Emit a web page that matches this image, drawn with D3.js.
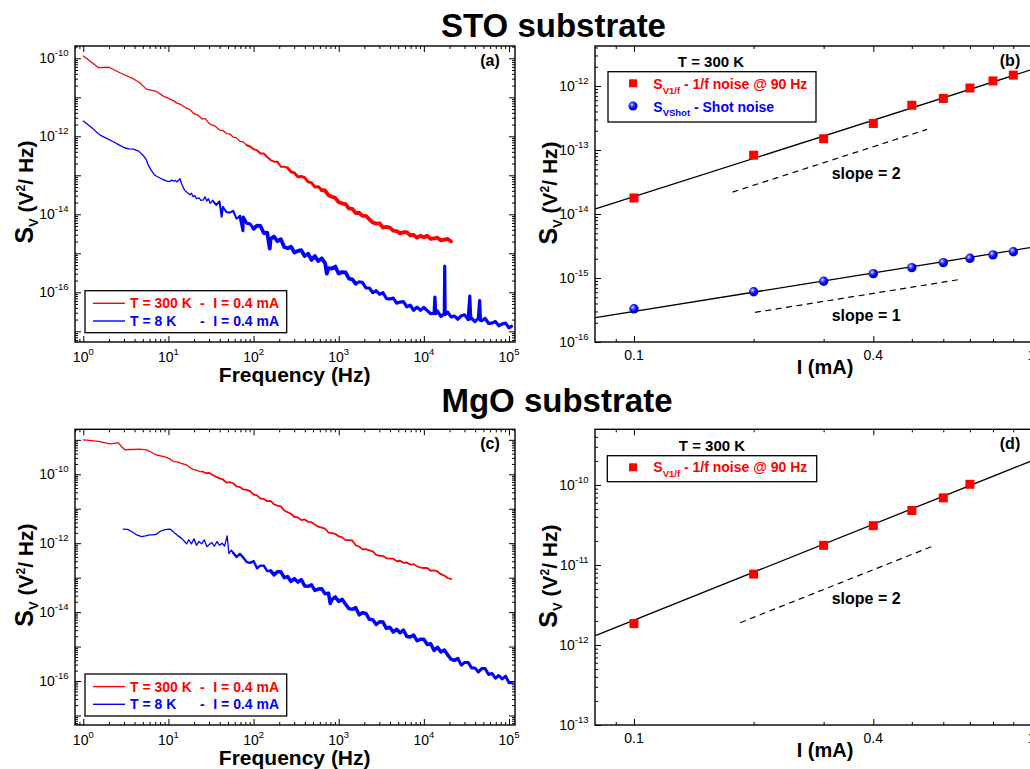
<!DOCTYPE html>
<html><head><meta charset="utf-8">
<script src="https://cdn.jsdelivr.net/npm/d3@7"></script>
<style>
body{margin:0;background:#fff}
svg text{font-family:"Liberation Sans",Arial,Helvetica,sans-serif}
</style>
</head><body>
<svg id="chart" width="1030" height="769"></svg>
<script>
// ---------------- DATA ----------------
// Spectra: [log10 f (Hz), log10 Sv (V^2/Hz)]
const specA_300K = [[0,-9.94],[0.18,-10.24],[0.30,-10.23],[0.43,-10.37],[0.59,-10.53],[0.66,-10.62],[0.74,-10.79],[0.86,-10.85],[0.94,-10.97],[1.0,-11.03],[1.05,-11.08],[1.1,-11.15],[1.15,-11.19],[1.21,-11.28],[1.25,-11.31],[1.3,-11.42],[1.34,-11.45],[1.4,-11.56],[1.43,-11.54],[1.47,-11.65],[1.5,-11.70],[1.55,-11.74],[1.6,-11.84],[1.64,-11.85],[1.68,-11.93],[1.72,-11.94],[1.76,-12.02],[1.8,-12.04],[1.84,-12.13],[1.88,-12.15],[1.92,-12.23],[1.96,-12.26],[2.0,-12.33],
[2.04,-12.36],[2.08,-12.44],[2.12,-12.44],[2.16,-12.53],[2.20,-12.61],[2.24,-12.65],[2.28,-12.65],[2.32,-12.78],[2.36,-12.78],[2.40,-12.81],
[2.44,-12.91],[2.48,-12.94],[2.52,-13.04],[2.56,-13.03],[2.60,-13.06],[2.64,-13.17],[2.68,-13.19],[2.72,-13.30],[2.76,-13.29],[2.80,-13.38],
[2.84,-13.39],[2.88,-13.51],[2.92,-13.55],[2.96,-13.58],[3.00,-13.69],[3.04,-13.72],[3.08,-13.74],[3.12,-13.85],[3.16,-13.86],[3.20,-13.97],
[3.24,-13.96],[3.28,-14.04],[3.32,-14.04],[3.36,-14.13],[3.40,-14.21],[3.44,-14.24],[3.48,-14.23],[3.52,-14.34],[3.56,-14.32],[3.60,-14.34],
[3.64,-14.42],[3.68,-14.43],[3.72,-14.49],[3.76,-14.46],[3.80,-14.46],[3.84,-14.54],[3.88,-14.53],[3.92,-14.60],[3.96,-14.55],[4.00,-14.59],
[4.04,-14.55],[4.08,-14.63],[4.12,-14.62],[4.16,-14.60],[4.20,-14.67],[4.24,-14.65],[4.28,-14.63],[4.32,-14.70]];

const specA_8K = [[0,-11.61],[0.1,-11.78],[0.196,-11.97],[0.28,-12.06],[0.352,-12.14],[0.42,-12.22],[0.489,-12.30],[0.54,-12.32],[0.587,-12.33],[0.65,-12.38],[0.704,-12.49],[0.74,-12.60],[0.763,-12.74],[0.80,-12.88],[0.841,-13.0],[0.90,-13.07],[0.939,-13.11],[0.98,-13.15],[1.017,-13.16],[1.04,-13.12],[1.06,-13.15],[1.08,-13.13],[1.10,-13.17],[1.135,-13.09],[1.16,-13.25],[1.19,-13.38],[1.22,-13.44],[1.252,-13.50],[1.27,-13.46],[1.29,-13.55],[1.31,-13.52],[1.33,-13.60],[1.36,-13.58],[1.38,-13.64],[1.41,-13.63],[1.43,-13.55],[1.45,-13.66],[1.47,-13.60],[1.49,-13.72],
[1.52,-13.65],[1.56,-13.76],[1.60,-13.67],[1.625,-14.06],[1.64,-13.81],[1.68,-13.94],[1.72,-13.96],[1.76,-13.91],[1.80,-14.11],[1.84,-14.05],[1.875,-14.42],[1.88,-14.07],[1.92,-14.23],[1.96,-14.25],
[2.00,-14.37],[2.04,-14.29],[2.08,-14.30],[2.12,-14.48],[2.16,-14.47],[2.19,-14.88],[2.20,-14.63],[2.24,-14.57],[2.28,-14.69],[2.32,-14.64],[2.36,-14.84],[2.40,-14.87],[2.44,-14.83],
[2.48,-14.98],[2.52,-14.94],[2.56,-14.92],[2.60,-15.07],[2.64,-15.01],[2.68,-15.17],[2.72,-15.07],[2.76,-15.20],[2.80,-15.13],[2.84,-15.25],[2.86,-15.52],[2.88,-15.38],[2.92,-15.39],
[2.96,-15.34],[3.00,-15.52],[3.04,-15.48],[3.08,-15.49],[3.12,-15.65],[3.16,-15.67],[3.20,-15.78],[3.24,-15.73],[3.28,-15.75],[3.32,-15.89],[3.36,-15.89],[3.40,-16.01],
[3.44,-15.96],[3.48,-16.05],[3.52,-16.01],[3.56,-16.16],[3.60,-16.17],[3.64,-16.15],[3.68,-16.28],[3.72,-16.25],[3.76,-16.24],[3.80,-16.37],[3.84,-16.33],[3.88,-16.46],
[3.92,-16.38],[3.96,-16.46],[4.00,-16.39],[4.04,-16.47],[4.08,-16.55],[4.12,-16.54],[4.13,-16.12],[4.14,-16.55],[4.16,-16.48],[4.20,-16.62],[4.24,-16.54],[4.245,-15.33],[4.25,-16.57],
[4.28,-16.51],[4.32,-16.63],[4.36,-16.61],[4.40,-16.69],[4.44,-16.60],[4.48,-16.58],[4.52,-16.70],[4.54,-16.10],[4.55,-16.68],[4.56,-16.66],[4.60,-16.75],[4.64,-16.67],[4.655,-16.21],[4.665,-16.72],
[4.68,-16.73],[4.72,-16.67],[4.76,-16.80],[4.80,-16.79],[4.84,-16.75],[4.88,-16.86],[4.92,-16.81],[4.96,-16.79],[5.00,-16.91],[5.03,-16.87]];

const specC_300K = [[0,-9.0],[0.1,-9.02],[0.196,-9.05],[0.26,-9.09],[0.313,-9.12],[0.36,-9.10],[0.41,-9.08],[0.45,-9.20],[0.489,-9.29],[0.54,-9.28],[0.587,-9.28],[0.66,-9.27],[0.743,-9.29],[0.80,-9.36],[0.861,-9.44],[0.92,-9.47],[0.978,-9.51],[1.02,-9.56],[1.056,-9.63],[1.1,-9.64],[1.15,-9.68],[1.213,-9.73],[1.25,-9.80],[1.29,-9.86],[1.33,-9.88],[1.369,-9.92],
[1.40,-9.92],[1.44,-9.97],[1.48,-9.96],[1.52,-10.02],[1.56,-10.07],[1.60,-10.12],[1.64,-10.15],[1.68,-10.24],[1.72,-10.23],[1.76,-10.26],[1.80,-10.35],[1.84,-10.37],[1.88,-10.44],[1.92,-10.45],[1.96,-10.49],[2.00,-10.59],
[2.04,-10.61],[2.08,-10.70],[2.12,-10.72],[2.16,-10.78],[2.20,-10.77],[2.24,-10.87],[2.28,-10.91],[2.32,-10.93],[2.36,-11.05],[2.40,-11.10],[2.44,-11.15],[2.48,-11.24],[2.52,-11.25],[2.56,-11.33],[2.60,-11.31],[2.64,-11.38],
[2.68,-11.39],[2.72,-11.46],[2.76,-11.52],[2.80,-11.55],[2.84,-11.58],[2.88,-11.69],[2.92,-11.71],[2.96,-11.73],[3.00,-11.80],[3.04,-11.83],[3.08,-11.91],[3.12,-11.91],[3.16,-11.92],[3.20,-12.06],[3.24,-12.10],[3.28,-12.18],
[3.32,-12.17],[3.36,-12.21],[3.40,-12.24],[3.44,-12.34],[3.48,-12.37],[3.52,-12.37],[3.56,-12.44],[3.60,-12.45],[3.64,-12.45],[3.68,-12.52],[3.72,-12.51],[3.76,-12.57],[3.80,-12.56],[3.84,-12.62],[3.88,-12.61],[3.92,-12.67],
[3.96,-12.71],[4.00,-12.72],[4.04,-12.72],[4.08,-12.80],[4.12,-12.79],[4.16,-12.82],[4.20,-12.90],[4.24,-12.94],[4.28,-13.01],[4.32,-13.04]];

const specC_8K = [[0.469,-11.59],[0.52,-11.60],[0.567,-11.66],[0.62,-11.75],[0.685,-11.81],[0.73,-11.79],[0.78,-11.76],[0.82,-11.76],[0.86,-11.74],[0.90,-11.66],[0.94,-11.62],[0.98,-11.60],[1.017,-11.59],[1.05,-11.65],[1.076,-11.71],[1.11,-11.78],[1.154,-11.86],[1.19,-11.95],[1.213,-12.02],
[1.24,-11.90],[1.27,-12.02],[1.30,-11.87],[1.33,-12.06],[1.36,-11.95],[1.39,-12.02],[1.42,-11.90],[1.45,-12.10],[1.48,-12.04],[1.51,-11.98],[1.54,-12.09],[1.57,-11.95],[1.60,-12.06],[1.63,-12.00],[1.66,-12.08],[1.69,-11.79],[1.71,-12.30],[1.74,-12.20],
[1.76,-12.28],[1.80,-12.40],[1.84,-12.31],[1.88,-12.42],[1.92,-12.55],[1.96,-12.57],[2.00,-12.52],[2.04,-12.73],[2.08,-12.65],[2.12,-12.65],[2.16,-12.81],[2.20,-12.80],[2.24,-12.92],[2.28,-12.83],[2.32,-12.83],[2.36,-13.00],
[2.40,-12.97],[2.44,-13.11],[2.48,-13.03],[2.52,-13.13],[2.56,-13.06],[2.60,-13.24],[2.64,-13.25],[2.68,-13.21],[2.72,-13.37],[2.76,-13.33],[2.80,-13.32],[2.84,-13.47],[2.88,-13.45],[2.90,-13.75],[2.92,-13.64],[2.96,-13.56],
[3.00,-13.69],[3.04,-13.63],[3.08,-13.77],[3.12,-13.90],[3.16,-13.92],[3.20,-13.87],[3.24,-14.08],[3.28,-14.02],[3.32,-14.04],[3.36,-14.21],[3.40,-14.22],[3.44,-14.36],[3.48,-14.28],[3.52,-14.29],[3.56,-14.47],[3.60,-14.44],
[3.64,-14.58],[3.68,-14.50],[3.72,-14.60],[3.76,-14.52],[3.80,-14.71],[3.84,-14.72],[3.88,-14.67],[3.92,-14.83],[3.96,-14.79],[4.00,-14.79],[4.04,-14.94],[4.08,-14.92],[4.12,-15.11],[4.16,-15.02],[4.20,-15.16],[4.24,-15.10],
[4.28,-15.24],[4.32,-15.37],[4.36,-15.40],[4.40,-15.35],[4.44,-15.54],[4.48,-15.46],[4.52,-15.46],[4.56,-15.62],[4.60,-15.62],[4.64,-15.74],[4.68,-15.64],[4.72,-15.64],[4.76,-15.81],[4.80,-15.78],[4.84,-15.92],[4.88,-15.84],
[4.92,-15.94],[4.96,-15.86],[5.00,-16.05],[5.03,-16.05]];

// Current dependence (I in mA, Sv in V^2/Hz)
const currentsB = [0.1,0.2,0.3,0.4,0.5,0.6,0.7,0.8,0.9];
const svB_oneOverF = [1.78e-14,8.3e-14,1.5e-13,2.6e-13,5.0e-13,6.4e-13,9.3e-13,1.2e-12,1.48e-12];
const svB_shot = [3.3e-16,6.1e-16,8.9e-16,1.17e-15,1.45e-15,1.74e-15,2.03e-15,2.3e-15,2.57e-15];
const currentsD = [0.1,0.2,0.3,0.4,0.5,0.6,0.7];
const svD_oneOverF = [1.85e-12,7.7e-12,1.76e-11,3.1e-11,4.8e-11,6.9e-11,1.02e-10];
// fitted power laws [I, Sv] end points and slope guides
const fitB_oneOverF = [[0.08,1.2e-14],[1.0,1.8e-12]];
const fitB_shot = [[0.08,2.4e-16],[1.0,3.0e-15]];
const fitD_oneOverF = [[0.08,1.31e-12],[1.0,2.0e-10]];
const guideB_slope2 = [[0.177,2.2e-14],[0.546,2.1e-13]];
const guideB_slope1 = [[0.2015,2.9e-16],[0.668,9.6e-16]];
const guideD_slope2 = [[0.185,1.9e-12],[0.566,1.73e-11]];

// Tick labels
const freqTickExps = [0,1,2,3,4,5];
const yTickExpsA = [-16,-14,-12,-10];
const yTickExpsB = [-16,-15,-14,-13,-12];
const yTickExpsC = [-16,-14,-12,-10];
const yTickExpsD = [-13,-12,-11,-10];
const currentTicks = [0.1,0.4,1];
const currentTickLabels = ["0.1","0.4","1"];
const currentMinorTicks = [0.09,0.2,0.3,0.5,0.6,0.7,0.8,0.9];

// ---------------- DRAWING ----------------
const svg = d3.select("#chart");
const RED = "#ff0000", BLUE = "#0000ff";

const defs = svg.append("defs");
const grad = defs.append("radialGradient").attr("id","sphere").attr("cx","38%").attr("cy","35%").attr("r","65%");
grad.append("stop").attr("offset","0%").attr("stop-color","#ffffff");
grad.append("stop").attr("offset","22%").attr("stop-color","#6a6aff");
grad.append("stop").attr("offset","60%").attr("stop-color","#0000ff");
grad.append("stop").attr("offset","100%").attr("stop-color","#0000a8");

function logTicks(domain){
  const lo=Math.min(...domain), hi=Math.max(...domain);
  const major=[], minor=[];
  for(let e=Math.floor(Math.log10(lo))-1;e<=Math.ceil(Math.log10(hi));e++){
    for(let k=1;k<10;k++){
      const v=+(k*Math.pow(10,e)).toPrecision(6);
      if(v>=lo*0.9999 && v<=hi*1.0001){ (k===1?major:minor).push(v); }
    }
  }
  return {major,minor};
}

function panel(p){
  const g = svg.append("g");
  const x = d3.scaleLog().domain(p.xDomain).range([p.x0,p.x1]);
  const y = d3.scaleLog().domain(p.yDomain).range([p.y1,p.y0]);
  const clipId = "clip"+p.id;
  defs.append("clipPath").attr("id",clipId).append("rect")
    .attr("x",p.x0).attr("y",p.y0).attr("width",p.x1-p.x0).attr("height",p.y1-p.y0);

  const yt = logTicks(p.yDomain);
  const xMajor = p.xMajor, xMinor = p.xMinor;
  const axes = [
    [d3.axisLeft(y), `translate(${p.x0},0)`, yt.major, -6],
    [d3.axisLeft(y), `translate(${p.x0},0)`, yt.minor, -3],
    [d3.axisBottom(x), `translate(0,${p.y1})`, xMajor, -6],
    [d3.axisBottom(x), `translate(0,${p.y1})`, xMinor, -3],
    [d3.axisTop(x), `translate(0,${p.y0})`, xMajor, -6],
    [d3.axisTop(x), `translate(0,${p.y0})`, xMinor, -3]
  ];
  if(p.rightTicks){
    axes.push([d3.axisRight(y), `translate(${p.x1},0)`, yt.major, -6]);
    axes.push([d3.axisRight(y), `translate(${p.x1},0)`, yt.minor, -3]);
  }
  axes.forEach(([ax,tr,vals,len])=>{
    g.append("g").attr("transform",tr)
      .call(ax.tickValues(vals).tickSize(len).tickFormat(""))
      .call(s=>s.select(".domain").remove())
      .call(s=>s.selectAll("line").attr("stroke","#000").attr("stroke-width",1));
  });

  g.append("rect").attr("x",p.x0).attr("y",p.y0).attr("width",p.x1-p.x0).attr("height",p.y1-p.y0)
    .attr("fill","none").attr("stroke","#000").attr("stroke-width",1.4);

  p.yLabels.forEach(e=>{
    const t = g.append("text").attr("x",p.x0-6.5).attr("y",y(Math.pow(10,e))+5)
      .attr("text-anchor","end").attr("font-size",14).attr("fill","#000");
    t.append("tspan").text("10");
    t.append("tspan").attr("font-size",9.5).attr("dy",-7).text(String(e));
  });
  return {g,x,y,clip:`url(#${clipId})`};
}

function yLabel(g,cx,cy){
  const t = g.append("text").attr("transform",`translate(${cx},${cy}) rotate(-90)`)
    .attr("text-anchor","middle").attr("font-weight","bold").attr("fill","#000");
  t.append("tspan").attr("font-size",25).text("S");
  t.append("tspan").attr("font-size",13).attr("dy",5).text("V");
  t.append("tspan").attr("font-size",21).attr("dy",-5).text(" (V");
  t.append("tspan").attr("font-size",12).attr("dy",-8).text("2");
  t.append("tspan").attr("font-size",21).attr("dy",8).text("/ Hz)");
}

function boldText(g,x,y,size,txt,color,anchor){
  return g.append("text").attr("x",x).attr("y",y).attr("font-size",size).attr("font-weight","bold")
    .attr("fill",color||"#000").attr("text-anchor",anchor||"start").text(txt);
}

const lineLog = (x,y)=>d3.line().x(d=>x(Math.pow(10,d[0]))).y(d=>y(Math.pow(10,d[1])));
const linePts = (x,y)=>d3.line().x(d=>x(d[0])).y(d=>y(d[1]));

// measured spectrum: the trace gets thicker where the recorded spectrum is dense & noisy
function trace(dg,x,y,data,color,widths){
  widths.forEach(([from,w],i)=>{
    const to = i+1<widths.length ? widths[i+1][0] : Infinity;
    const seg = data.filter(d=>d[0]>=from && d[0]<=to);
    dg.append("path").datum(seg).attr("d",lineLog(x,y)).attr("fill","none").attr("stroke",color)
      .attr("stroke-width",w).attr("stroke-linejoin","round").attr("stroke-linecap","round");
  });
}

function spectrumPanel(id,y0,y1,yDomain,yLabels,s300,s8,letter,legY,w300,w8){
  const xDomain=[Math.pow(10,-0.0975),Math.pow(10,5.0705)];
  const xt = logTicks(xDomain);
  const P = panel({id,x0:75,x1:515,y0,y1,xDomain,yDomain,yLabels,xMajor:xt.major,xMinor:xt.minor,rightTicks:true});
  const {g,x,y}=P;
  freqTickExps.forEach(e=>{
    const t=g.append("text").attr("x",x(Math.pow(10,e))).attr("y",y1+19.7).attr("text-anchor","middle")
      .attr("font-size",14).attr("fill","#000");
    t.append("tspan").text("10");
    t.append("tspan").attr("font-size",9.5).attr("dy",-7).text(String(e));
  });
  const dg=g.append("g").attr("clip-path",P.clip);
  trace(dg,x,y,s300,RED,w300);
  trace(dg,x,y,s8,BLUE,w8);
  boldText(g,294.7,y1+39.5,21,"Frequency (Hz)","#000","middle");
  yLabel(g,33.3,(y0+y1)/2-2);
  boldText(g,490,y0+19.5,16,letter,"#000","middle");
  const L=legY;
  g.append("rect").attr("x",85).attr("y",L).attr("width",201.7).attr("height",42).attr("fill","#fff").attr("stroke","#000").attr("stroke-width",1.3);
  g.append("line").attr("x1",93).attr("x2",125).attr("y1",L+12.6).attr("y2",L+12.6).attr("stroke",RED).attr("stroke-width",1.4);
  g.append("line").attr("x1",93).attr("x2",125).attr("y1",L+30.3).attr("y2",L+30.3).attr("stroke",BLUE).attr("stroke-width",1.4);
  boldText(g,130,L+17.6,14,"T = 300 K",RED); boldText(g,200,L+17.6,14,"-",RED); boldText(g,213.3,L+17.6,14,"I = 0.4 mA",RED);
  boldText(g,130,L+35.3,14,"T = 8 K",BLUE); boldText(g,200,L+35.3,14,"-",BLUE); boldText(g,213.3,L+35.3,14,"I = 0.4 mA",BLUE);
}

spectrumPanel("A",46,342,[Math.pow(10,-17.274),Math.pow(10,-9.685)],yTickExpsA,specA_300K,specA_8K,"(a)",290.7,
  [[0,1.3],[1.92,2.0],[2.4,2.9],[2.8,3.8]], [[0,1.3],[1.52,2.0],[1.84,3.0],[2.0,3.8],[3.2,3.2]]);
spectrumPanel("C",429.3,725,[Math.pow(10,-17.277),Math.pow(10,-8.694)],yTickExpsC,specC_300K,specC_8K,"(c)",674,
  [[0,1.3],[1.4,1.8]], [[0,1.3],[1.76,2.4],[2.2,3.5],[4.4,3.0]]);

function currentPanel(id,y0,y1,yDomain,yLabels){
  const P = panel({id,x0:595,x1:1031.5,y0,y1,xDomain:[0.0798,1.0],yDomain,yLabels,xMajor:currentTicks,xMinor:currentMinorTicks,rightTicks:false});
  const {g,x}=P;
  currentTicks.forEach((v,i)=>{
    g.append("text").attr("x",x(v)).attr("y",y1+18).attr("text-anchor","middle").attr("font-size",14).attr("fill","#000").text(currentTickLabels[i]);
  });
  boldText(g,825,y1+32,20,"I (mA)","#000","middle");
  yLabel(g,556.7,(y0+y1)/2-1);
  return P;
}
function squares(g,x,y,I,S,clip){
  g.append("g").attr("clip-path",clip).selectAll("rect").data(I.map((v,i)=>[v,S[i]])).join("rect")
    .attr("x",d=>x(d[0])-4.5).attr("y",d=>y(d[1])-4.5).attr("width",9).attr("height",9).attr("fill",RED);
}
function spheres(g,x,y,I,S,clip){
  g.append("g").attr("clip-path",clip).selectAll("circle").data(I.map((v,i)=>[v,S[i]])).join("circle")
    .attr("cx",d=>x(d[0])).attr("cy",d=>y(d[1])).attr("r",4.7).attr("fill","url(#sphere)");
}
function fitLine(P,pts,dashed){
  P.g.append("path").attr("clip-path",P.clip).datum(pts).attr("d",linePts(P.x,P.y)).attr("fill","none")
    .attr("stroke","#000").attr("stroke-width",dashed?1.2:1.3).attr("stroke-dasharray",dashed?"6,4.5":null);
}
function legendEntry(g,x,yb,sub,rest,color){
  const t=g.append("text").attr("x",x).attr("y",yb).attr("font-size",14).attr("font-weight","bold").attr("fill",color);
  t.append("tspan").text("S");
  t.append("tspan").attr("font-size",9.5).attr("dy",4.5).text(sub);
  t.append("tspan").attr("dy",-4.5).text(rest);
}

// (b)
const B = currentPanel("B",46,342,[1e-16,Math.pow(10,-11.375)],yTickExpsB);
fitLine(B,fitB_oneOverF); fitLine(B,fitB_shot);
fitLine(B,guideB_slope2,true); fitLine(B,guideB_slope1,true);
squares(B.g,B.x,B.y,currentsB,svB_oneOverF,B.clip);
spheres(B.g,B.x,B.y,currentsB,svB_shot,B.clip);
boldText(B.g,831.7,179.3,16,"slope = 2");
boldText(B.g,831.7,320.7,16,"slope = 1");
boldText(B.g,1010,65.5,16,"(b)","#000","middle");
boldText(B.g,711,67,15,"T = 300 K","#000","middle");
B.g.append("rect").attr("x",608).attr("y",71.7).attr("width",208).attr("height",50.3).attr("fill","#fff").attr("stroke","#000").attr("stroke-width",1.3);
B.g.append("rect").attr("x",629).attr("y",79.3).attr("width",8).attr("height",8).attr("fill",RED);
B.g.append("circle").attr("cx",633).attr("cy",106).attr("r",4.5).attr("fill","url(#sphere)");
legendEntry(B.g,653.3,89.3,"V1/f"," - 1/f noise @ 90 Hz",RED);
legendEntry(B.g,653.3,111.7,"VShot"," - Shot noise",BLUE);

// (d)
const D = currentPanel("D",429.3,725,[1e-13,Math.pow(10,-9.304)],yTickExpsD);
fitLine(D,fitD_oneOverF);
fitLine(D,guideD_slope2,true);
squares(D.g,D.x,D.y,currentsD,svD_oneOverF,D.clip);
boldText(D.g,831.7,604,16,"slope = 2");
boldText(D.g,1010,448.5,16,"(d)","#000","middle");
boldText(D.g,712,450.7,15,"T = 300 K","#000","middle");
D.g.append("rect").attr("x",607.3).attr("y",455.7).attr("width",209.4).attr("height",26).attr("fill","#fff").attr("stroke","#000").attr("stroke-width",1.3);
D.g.append("rect").attr("x",629).attr("y",463.3).attr("width",8).attr("height",8).attr("fill",RED);
legendEntry(D.g,653.3,472.3,"V1/f"," - 1/f noise @ 90 Hz",RED);

// titles
boldText(svg,553.5,37.3,33,"STO substrate","#000","middle");
boldText(svg,557,412,33,"MgO substrate","#000","middle");
</script>
</body></html>
